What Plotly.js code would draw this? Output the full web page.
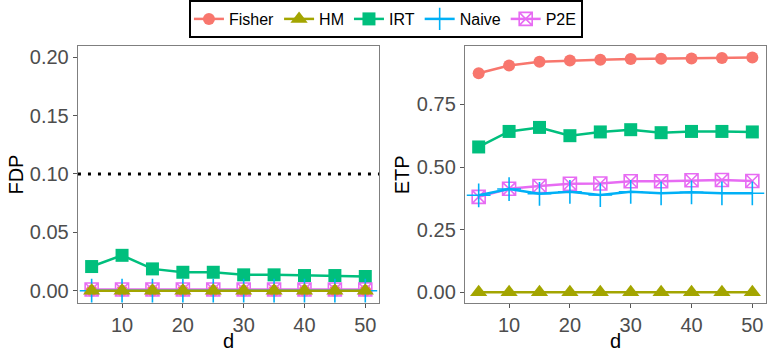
<!DOCTYPE html>
<html>
<head>
<meta charset="utf-8">
<script src="https://cdn.plot.ly/plotly-3.0.1.min.js"></script>
<style>
  html, body { margin: 0; padding: 0; background: #fff; }
  #chart { width: 775px; height: 361px; }
</style>
</head>
<body>
<div id="chart"></div>
<script>
// values
const d = [5, 10, 15, 20, 25, 30, 35, 40, 45, 50];

const fdpFisher = [0, 0, 0, 0, 0, 0, 0, 0, 0, 0];
const fdpHM     = [0, 0, 0, 0, 0, 0, 0, 0, 0, 0];
const fdpIRT    = [0.0207, 0.0303, 0.0187, 0.0158, 0.0158, 0.0136, 0.0136, 0.0130, 0.0130, 0.0122];
const fdpNaive  = [0, 0, 0, 0, 0, 0, 0, 0, 0, 0];
const fdpP2E    = [0.001, 0.001, 0.001, 0.001, 0.001, 0.001, 0.001, 0.001, 0.001, 0.001];

const etpFisher = [0.874, 0.905, 0.920, 0.925, 0.928, 0.931, 0.932, 0.933, 0.935, 0.937];
const etpHM     = [0, 0, 0, 0, 0, 0, 0, 0, 0, 0];
const etpIRT    = [0.580, 0.642, 0.658, 0.625, 0.640, 0.649, 0.637, 0.642, 0.642, 0.640];
const etpNaive  = [0.387, 0.412, 0.393, 0.401, 0.388, 0.401, 0.395, 0.399, 0.395, 0.395];
const etpP2E    = [0.381, 0.413, 0.424, 0.433, 0.434, 0.443, 0.443, 0.447, 0.448, 0.444];

const fdpLevel = 0.1;

// method styles (ggplot default hues)
const methods = {
    Fisher: {color: "#F8766D", symbol: "circle", size: 12, rank: 1},
    HM:     {color: "#A3A500", symbol: "triangle-up", size: 15, rank: 2},
    IRT:    {color: "#00BF7D", symbol: "square", size: 13, rank: 3},
    Naive:  {color: "#00B0F6", symbol: "cross-thin", size: 17, rank: 4},
    P2E:    {color: "#E76BF3", symbol: "square-x-open", size: 13, rank: 5}
};

function trace(name, y, xa, ya, show) {
    let m = methods[name];
    let open = m.symbol === "cross-thin" || m.symbol === "square-x-open";
    return {
        x: d, y: y, xaxis: xa, yaxis: ya,
        type: "scatter", mode: "lines+markers",
        name: name, legendgroup: name, showlegend: show, legendrank: m.rank,
        line: {color: m.color, width: 2.5},
        marker: {
            symbol: m.symbol, size: m.size, color: m.color,
            line: {color: m.color, width: open ? 1.6 : 0}
        }
    };
}

// draw order so that HM sits on top like the reference
let traces = [
    trace("Fisher", fdpFisher, "x", "y", true),
    trace("IRT", fdpIRT, "x", "y", true),
    trace("P2E", fdpP2E, "x", "y", true),
    trace("Naive", fdpNaive, "x", "y", true),
    trace("HM", fdpHM, "x", "y", true),
    trace("Fisher", etpFisher, "x2", "y2", false),
    trace("IRT", etpIRT, "x2", "y2", false),
    trace("P2E", etpP2E, "x2", "y2", false),
    trace("Naive", etpNaive, "x2", "y2", false),
    trace("HM", etpHM, "x2", "y2", false)
];

const font = {family: "Liberation Sans, Arial, sans-serif", color: "#000"};
const tickFont = {family: "Liberation Sans, Arial, sans-serif", size: 20, color: "#4D4D4D"};

function xAxis(dom, anchor) {
    return {
        domain: dom, anchor: anchor, range: [2.75, 52.25],
        tickvals: [10, 20, 30, 40, 50], tickfont: tickFont,
        ticks: "outside", ticklen: 4, tickcolor: "#555", tickwidth: 1,
        showgrid: false, zeroline: false,
        showline: true, mirror: true, linecolor: "#7F7F7F", linewidth: 1.2
    };
}
function yAxis(range, ticks, labels, anchor) {
    return {
        domain: [0.1607, 0.8726], anchor: anchor, range: range,
        tickvals: ticks, ticktext: labels, tickfont: tickFont,
        ticks: "outside", ticklen: 4, tickcolor: "#555", tickwidth: 1,
        showgrid: false, zeroline: false,
        showline: true, mirror: true, linecolor: "#7F7F7F", linewidth: 1.2
    };
}

let layout = {
    width: 775, height: 361,
    margin: {l: 0, r: 0, t: 0, b: 0},
    paper_bgcolor: "#fff", plot_bgcolor: "#fff",
    font: font,
    showlegend: true,
    legend: {
        orientation: "h", x: 0.498, xanchor: "center", y: 1, yanchor: "top",
        bordercolor: "#000", borderwidth: 2, bgcolor: "#fff",
        font: {family: font.family, size: 16, color: "#000"},
        itemwidth: 30, tracegroupgap: 0
    },
    xaxis: xAxis([0.1006, 0.489], "y"),
    yaxis: yAxis([-0.0105, 0.2095], [0, 0.05, 0.1, 0.15, 0.2], ["0.00", "0.05", "0.10", "0.15", "0.20"], "x"),
    xaxis2: xAxis([0.600, 0.9884], "y2"),
    yaxis2: yAxis([-0.0427, 0.983], [0, 0.25, 0.5, 0.75], ["0.00", "0.25", "0.50", "0.75"], "x2"),
    shapes: [{
        type: "line", xref: "x domain", yref: "y", x0: 0, x1: 1, y0: fdpLevel, y1: fdpLevel,
        line: {color: "#000", width: 3, dash: "3px,7px"}
    }],
    annotations: [
        {text: "d", xref: "x domain", yref: "paper", x: 0.5, y: 0.02, xanchor: "center", yanchor: "bottom", showarrow: false, font: {size: 20}},
        {text: "d", xref: "x2 domain", yref: "paper", x: 0.5, y: 0.02, xanchor: "center", yanchor: "bottom", showarrow: false, font: {size: 20}},
        {text: "FDP", xref: "paper", yref: "y domain", x: 0.004, y: 0.5, xanchor: "left", yanchor: "middle", textangle: -90, showarrow: false, font: {size: 20}},
        {text: "ETP", xref: "paper", yref: "y2 domain", x: 0.503, y: 0.5, xanchor: "left", yanchor: "middle", textangle: -90, showarrow: false, font: {size: 20}}
    ]
};

Plotly.newPlot("chart", traces, layout, {displayModeBar: false, staticPlot: true});
</script>
</body>
</html>
